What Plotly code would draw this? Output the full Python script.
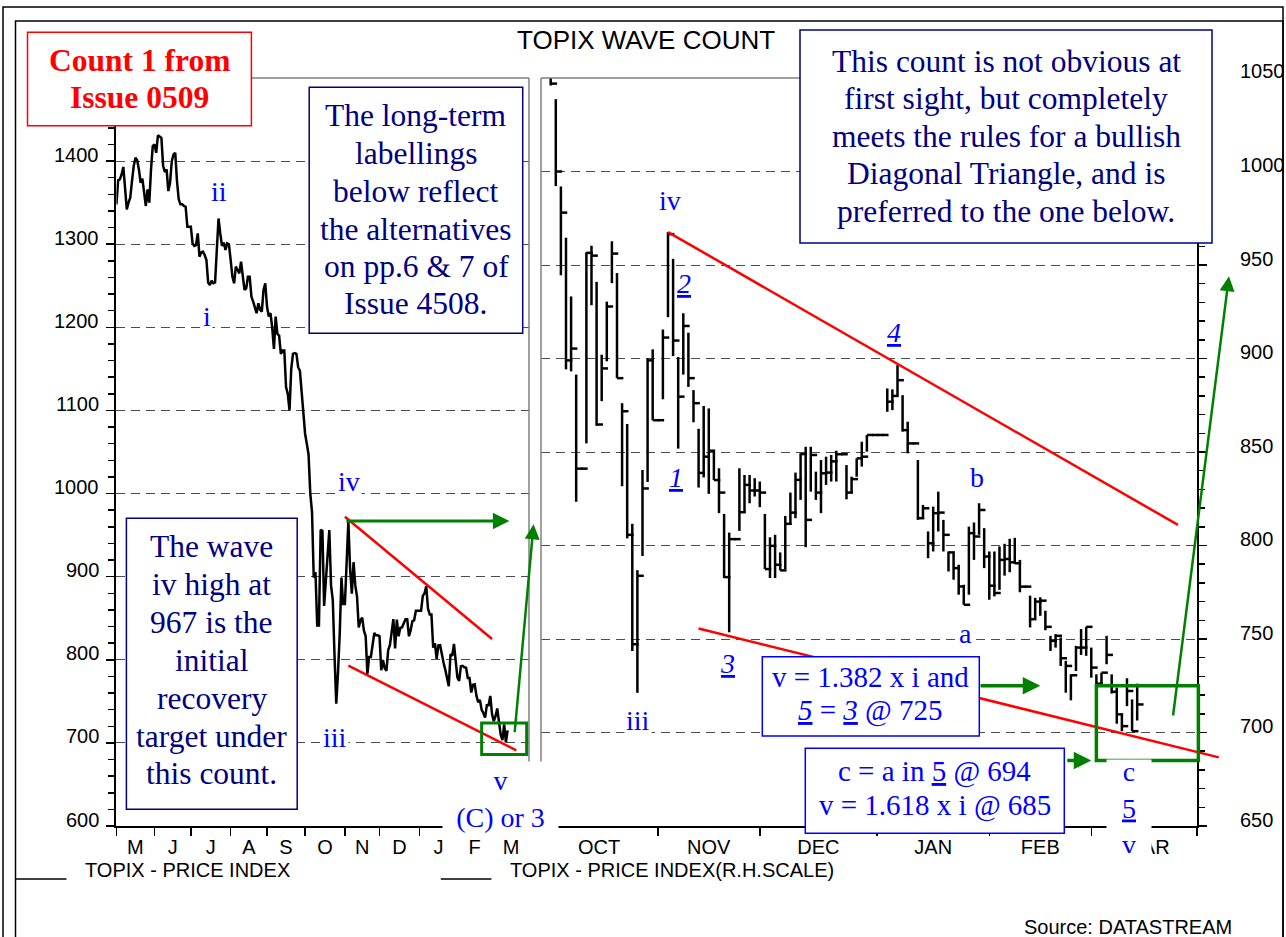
import numpy as np
import pandas as pd
import plotly.graph_objects as go

W, H = 1286, 937

# ---------------- data ----------------
LEFT_START = "2008-05-01"
RIGHT_START = "2008-10-01"
LAST_DAY = "2009-03-13"

# TOPIX close, weekdays 1 May 2008 - 30 Sep 2008 (left panel)
may_sep_close = [
    1348, 1377, 1378, 1384, 1393, 1366, 1342, 1350, 1356, 1376,
    1394, 1404, 1401, 1390, 1374, 1379, 1358, 1346, 1366, 1350,
    1390, 1418, 1420, 1410, 1431, 1429, 1428, 1394, 1387, 1390,
    1364, 1374, 1400, 1408, 1410, 1376, 1354, 1348, 1348, 1346,
    1345, 1321, 1321, 1321, 1301, 1298, 1299, 1313, 1285, 1290,
    1291, 1287, 1281, 1254, 1251, 1256, 1253, 1254, 1293, 1331,
    1313, 1298, 1302, 1293, 1301, 1300, 1281, 1261, 1253, 1273,
    1269, 1265, 1279, 1263, 1245, 1247, 1261, 1261, 1237, 1231,
    1225, 1217, 1229, 1221, 1219, 1245, 1253, 1225, 1213, 1217,
    1200, 1174, 1213, 1192, 1190, 1168, 1172, 1172, 1128, 1120,
    1100, 1150, 1168, 1169, 1168, 1152, 1148, 1120, 1090,
]

# TOPIX daily high / low / close, weekdays 1 Oct 2008 - 13 Mar 2009 (right panel)
bar_high = [
    1085, 1075, 1065, 1038.7, 992, 964.6, 933.2, 891.4, 841.1, 956.8,
    960.3, 941, 902, 930.4, 962.7, 945.7, 876.1, 865, 811.6, 786.8,
    840.4, 900.1, 904.9, 867, 915.5, 967.6, 953.3, 900.8, 924.2, 913.8,
    883.1, 862.4, 874.6, 873.3, 850.2, 841.3, 816.9, 806.9, 803.4, 841.3,
    837.7, 837.7, 836, 834.2, 816.9, 804.4, 805.7, 796.3, 815.8, 828.3,
    839, 849.3, 852.8, 852.8, 839.5, 845.7, 847.5, 848.4, 850.7, 848.8,
    843, 836.8, 846.6, 855.5, 859.1, 859.1, 859.1, 859.1, 884, 883.5,
    896.4, 880.4, 866.2, 854.6, 845.7, 821.7, 807.5, 820.8, 828.8, 813.7,
    796.8, 795.9, 789.7, 779, 810.1, 812.3, 822.6, 809.3, 796.8, 796.8,
    799.5, 800.9, 803.6, 804.1, 792.3, 778, 773.2, 772, 772.3, 765.1,
    751.7, 752.6, 750.8, 738.3, 731.1, 746.3, 755.3, 756.5, 745.4, 731.1,
    732, 751.7, 731.1, 724, 709.7, 729, 717.7, 726.1,
]
bar_low = [
    1060, 1052, 1046, 992.2, 944.5, 894.2, 893.1, 823.4, 841.1, 854.6,
    928.5, 864, 877.2, 898.5, 940.3, 889.5, 831.7, 803.8, 743.6, 721.2,
    794.4, 834, 867, 867, 878.2, 922.1, 901.3, 851.8, 891.4, 884.8,
    865.9, 831, 836.4, 827.6, 835, 817.3, 782.6, 753.6, 803.4, 807.8,
    817.8, 822.6, 826.2, 820.5, 787.4, 782.6, 782.6, 786.7, 787.4, 811,
    814.6, 824.4, 799.1, 828.8, 824.4, 817.3, 832.4, 834.2, 834.2, 848.8,
    824.7, 827.9, 836.8, 842.2, 850.2, 859.1, 859.1, 859.1, 871.5, 872.4,
    880.4, 860.9, 849.3, 854.6, 813.7, 814.6, 793.2, 796.8, 807.5, 796.8,
    786.1, 781.7, 773.7, 768.3, 773.7, 792.3, 805.7, 787.9, 771, 772.8,
    776.3, 783.9, 785.7, 790.2, 775, 778, 756.2, 761, 762.4, 754.7,
    743.6, 745.4, 735.6, 721.3, 717.2, 732.9, 741.5, 741, 729.3, 714.7,
    724.9, 736.5, 720.8, 704.7, 700.7, 714.1, 700.7, 706.4,
]
bar_close = [
    1072, 1060, 1047, 1000, 978, 899, 905.3, 841.1, 841.1, 956.5,
    955, 864.7, 894.7, 927.8, 956.1, 889.5, 871.8, 805.7, 747.2, 783.8,
    830.5, 899, 867, 867, 911.2, 966.5, 909.6, 879.6, 917.4, 889.5,
    876.1, 838.8, 847.5, 850.7, 835, 828.3, 783.1, 803.4, 803.4, 817.8,
    832.4, 829.4, 829.4, 828.3, 787.4, 799.8, 789.7, 786.7, 811.6, 817.6,
    835.1, 848.9, 813.7, 848.4, 828.3, 838.6, 839, 845, 848.8, 848.8,
    828.3, 835.5, 846.6, 847.5, 859.1, 859.1, 859.1, 859.1, 876.9, 880,
    888.4, 861.7, 854.6, 854.6, 814.6, 819.9, 801.2, 817.3, 817.6, 805.7,
    796.3, 787.9, 778.1, 768.3, 806.6, 804.8, 819, 794.1, 778.5, 774.6,
    792.3, 792.8, 791, 790.5, 778, 778, 760.6, 770, 770.5, 756.5,
    749, 751.7, 739.7, 735.6, 730.6, 745.4, 745.4, 756.5, 734.7, 726.1,
    732, 741.5, 721.8, 709.7, 703.4, 722.2, 700.7, 715,
]

left_month_labels = ["M", "J", "J", "A", "S", "O", "N", "D", "J", "F", "M"]
right_month_labels = ["OCT", "NOV", "DEC", "JAN", "FEB", "MAR"]
left_y_ticks = [600, 700, 800, 900, 1000, 1100, 1200, 1300, 1400]
right_y_ticks = [650, 700, 750, 800, 850, 900, 950, 1000, 1050]

# ---------------- geometry / style ----------------
SERIF = "Liberation Serif, Times New Roman, serif"
SANS = "Liberation Sans, Arial, sans-serif"
NAVY = "#000080"
BLUE = "#0000FF"
GREEN = "#008000"
RED = "#FF0000"
GREY = "#808080"

LX0, LX1 = 116.4, 529.0
RX0, RX1 = 541.0, 1197.0
PY0, PY1 = 78.0, 826.0
LXR = [0.0, 238.35]
RXR = [0.1, 128.73]
LYR = [600, 1500]
RYR = [650, 1050]
TICK = 1.25


def bidx(start, dates):
    d = pd.DatetimeIndex(pd.to_datetime(dates)).values.astype("datetime64[D]")
    return np.busday_count(np.datetime64(start, "D"), d)


def P(px, py):
    return px / W, 1 - py / H


def Lxy(date, v):
    k = float(bidx(LEFT_START, [date])[0])
    px = LX0 + (k - LXR[0]) / (LXR[1] - LXR[0]) * (LX1 - LX0)
    py = PY1 - (v - LYR[0]) / (LYR[1] - LYR[0]) * (PY1 - PY0)
    return P(px, py)


def Rxy(date, v):
    k = float(bidx(RIGHT_START, [date])[0])
    px = RX0 + (k - RXR[0]) / (RXR[1] - RXR[0]) * (RX1 - RX0)
    py = PY1 - (v - RYR[0]) / (RYR[1] - RYR[0]) * (PY1 - PY0)
    return P(px, py)


left_dates = pd.bdate_range(LEFT_START, LAST_DAY)
right_dates = pd.bdate_range(RIGHT_START, LAST_DAY)
left_close = may_sep_close + bar_close
assert len(left_close) == len(left_dates)
assert len(bar_close) == len(right_dates) == len(bar_high) == len(bar_low)
lx = bidx(LEFT_START, left_dates)
rx = bidx(RIGHT_START, right_dates)

fig = go.Figure()
fig.add_trace(go.Scatter(x=lx, y=left_close, mode="lines",
                         line=dict(color="black", width=2.5),
                         xaxis="x", yaxis="y", hoverinfo="skip"))
bx, by = [], []
for k, h, l, c in zip(rx, bar_high, bar_low, bar_close):
    bx += [k, k, None, k, k + TICK, None]
    by += [l, h, None, c, c, None]
fig.add_trace(go.Scatter(x=bx, y=by, mode="lines", connectgaps=False,
                         line=dict(color="black", width=2.5),
                         xaxis="x2", yaxis="y2", hoverinfo="skip"))

# month boundaries (ticks) and month centres (labels)
lm = bidx(LEFT_START, pd.date_range("2008-05-01", "2009-04-01", freq="MS")).astype(float)
rm = bidx(RIGHT_START, pd.date_range("2008-10-01", "2009-04-01", freq="MS")).astype(float)
l_ticks = np.clip(lm, LXR[0], LXR[1])
r_ticks = np.clip(rm, RXR[0], RXR[1])
l_cent = (lm[:-1] + lm[1:]) / 2
r_cent = (rm[:-1] + rm[1:]) / 2

ydom = [1 - PY1 / H, 1 - PY0 / H]
tickfont = dict(family=SANS, size=20, color="black")
axline = dict(showline=True, linecolor="black", linewidth=2, zeroline=False,
              fixedrange=True, automargin=False)


def xaxis_def(domain, rng, anchor, ticks_at, cent, labels):
    return dict(domain=domain, range=rng, anchor=anchor,
                tickmode="array", tickvals=cent, ticktext=labels, ticks="",
                tickfont=tickfont, ticklabelstandoff=2, showgrid=False,
                minor=dict(tickmode="array", tickvals=ticks_at, ticks="outside",
                           ticklen=8, tickwidth=1.5, tickcolor="black", showgrid=False),
                **axline)


def yaxis_def(domain, rng, anchor, side, vals, minor_d):
    return dict(domain=domain, range=rng, anchor=anchor, side=side,
                tickmode="array", tickvals=vals, showticklabels=False,
                ticks="outside", ticklen=8, tickwidth=1.5, tickcolor="black",
                showgrid=True, gridcolor="#4d4d4d", gridwidth=1, griddash="9px,6px",
                minor=dict(tickmode="linear", tick0=vals[0], dtick=minor_d,
                           ticks="outside", ticklen=6, tickwidth=1.5,
                           tickcolor="black", showgrid=False),
                **axline)


fig.update_layout(
    width=W, height=H, autosize=False, showlegend=False,
    margin=dict(l=0, r=0, t=0, b=0, pad=0, autoexpand=False),
    paper_bgcolor="white", plot_bgcolor="rgba(0,0,0,0)",
    xaxis=xaxis_def([LX0 / W, LX1 / W], LXR, "y", l_ticks, l_cent, left_month_labels),
    yaxis=yaxis_def(ydom, LYR, "x", "left", left_y_ticks, 20),
    xaxis2=xaxis_def([RX0 / W, RX1 / W], RXR, "y2", r_ticks, r_cent, right_month_labels),
    yaxis2=yaxis_def(ydom, RYR, "x2", "right", right_y_ticks, 10),
)

shapes = []


def pline(p0, p1, color, width):
    return dict(type="line", xref="paper", yref="paper", x0=p0[0], y0=p0[1],
                x1=p1[0], y1=p1[1], line=dict(color=color, width=width), layer="above")


def prect(p0, p1, color, width, fill=None):
    return dict(type="rect", xref="paper", yref="paper", x0=p0[0], y0=p0[1],
                x1=p1[0], y1=p1[1], line=dict(color=color, width=width),
                fillcolor=fill if fill else "rgba(0,0,0,0)", layer="above")


# outer frames
shapes.append(prect(P(3, 7), P(1283, 945), "black", 1.5))
shapes.append(prect(P(15.5, 21), P(1283, 945), "black", 1.5))
# panel frames (grey)
shapes.append(pline(P(LX0, PY0), P(LX1, PY0), GREY, 1.5))
shapes.append(pline(P(LX1, PY0), P(LX1, PY1), GREY, 1.5))
shapes.append(pline(P(RX0, PY0), P(RX1, PY0), GREY, 1.5))
shapes.append(pline(P(RX0, PY0), P(RX0, PY1), GREY, 1.5))

# red trend lines
shapes.append(pline(Lxy("2008-11-03", 972), Lxy("2009-03-02", 825), RED, 2.5))
shapes.append(pline(Lxy("2008-11-05", 793), Lxy("2009-03-20", 691), RED, 2.5))
shapes.append(pline(Rxy("2008-11-05", 967.6), Rxy("2009-03-25", 811), RED, 2.5))
shapes.append(pline(Rxy("2008-11-13", 755.6), Rxy("2009-04-06", 686.7), RED, 2.5))
# green target boxes
shapes.append(prect(Lxy("2009-02-20", 724), Lxy("2009-03-30", 686), GREEN, 3))
shapes.append(prect(Rxy("2009-03-03", 725), Rxy("2009-03-31", 685), GREEN, 3.5))

# text boxes
shapes.append(prect(P(27.5, 32.3), P(251.4, 125.7), RED, 1.5, "white"))
shapes.append(prect(P(309.2, 87.3), P(522.7, 333.3), NAVY, 1.5, "white"))
shapes.append(prect(P(126.4, 518.3), P(297.2, 809.3), NAVY, 1.5, "white"))
shapes.append(prect(P(800, 30), P(1212, 243), NAVY, 1.5, "white"))
shapes.append(prect(P(762.3, 656.7), P(979.3, 736), BLUE, 1.5, "white"))
shapes.append(prect(P(805.3, 748.3), P(1064.3, 833.3), BLUE, 1.5, "white"))

# legend lines
shapes.append(pline(P(15.5, 879), P(66.5, 879), "black", 1.5))
shapes.append(pline(P(440.8, 879), P(491.4, 879), "black", 1.5))

annotations = []

# y tick labels, placed through the axes' own value scales (label sits just above its tick)
for v in left_y_ticks:
    annotations.append(dict(text=str(v), xref="paper", x=100 / W, xanchor="right",
                            yref="y", y=v, yanchor="middle", yshift=6.5,
                            showarrow=False, font=tickfont, borderpad=0))
for v in right_y_ticks:
    annotations.append(dict(text=str(v), xref="paper", x=1239 / W, xanchor="left",
                            yref="y2", y=v, yanchor="middle", yshift=6.5,
                            showarrow=False, font=tickfont, borderpad=0))


def label(text, px, py, size=28, color=BLUE, family=SERIF, xanchor="center",
          bg=None, width=None, height=None, pad=1):
    x, y = P(px, py)
    d = dict(text=text, x=x, y=y, xref="paper", yref="paper", showarrow=False,
             xanchor=xanchor, yanchor="middle", align="center",
             font=dict(family=family, size=size, color=color), borderpad=pad)
    if bg:
        d["bgcolor"] = bg
    if width:
        d["width"] = width
    if height:
        d["height"] = height
    return d


def arrow(tail, tip, width, size):
    return dict(x=tip[0], y=tip[1], xref="paper", yref="paper",
                ax=(tail[0] - tip[0]) * W, ay=-(tail[1] - tip[1]) * H,
                axref="pixel", ayref="pixel", text="", showarrow=True,
                arrowhead=2, arrowsize=size, arrowwidth=width,
                arrowcolor=GREEN, standoff=0, startstandoff=0)


# title, legend, source
annotations.append(label("TOPIX WAVE COUNT", 646, 40, size=26, color="black", family=SANS))
annotations.append(label("TOPIX - PRICE INDEX", 83.3, 870, size=20, color="black",
                         family=SANS, xanchor="left"))
annotations.append(label("TOPIX - PRICE INDEX(R.H.SCALE)", 508, 870, size=20,
                         color="black", family=SANS, xanchor="left"))
annotations.append(label("Source: DATASTREAM", 1234, 927, size=20, color="black",
                         family=SANS, xanchor="right"))

# boxed texts
for t, y in zip(["<b>Count 1 from</b>", "<b>Issue 0509</b>"], [60, 97]):
    annotations.append(label(t, 139.5, y, size=31.5, color=RED))
for t, y in zip(["The long-term", "labellings", "below reflect", "the alternatives",
                 "on pp.6 &amp; 7 of", "Issue 4508."],
                [115, 153.3, 191.7, 229.3, 266.7, 303.3]):
    annotations.append(label(t, 416, y, size=31.5, color=NAVY))
for t, y in zip(["The wave", "iv high at", "967 is the", "initial", "recovery",
                 "target under", "this count."],
                [546, 584, 622.7, 660, 698, 736, 773]):
    annotations.append(label(t, 211.8, y, size=31.5, color=NAVY))
for t, y in zip(["This count is not obvious at", "first sight, but completely",
                 "meets the rules for a bullish", "Diagonal Triangle, and is",
                 "preferred to the one below."],
                [61, 98.3, 136, 173.3, 211.7]):
    annotations.append(label(t, 1006, y, size=31.5, color=NAVY))
annotations.append(label("v = 1.382 x i and", 870.8, 676.7, size=29))
annotations.append(label("<i><u>5</u></i> = <i><u>3</u></i> @ 725", 870.8, 710, size=29))
annotations.append(label("c = a in <u>5</u> @ 694", 934.8, 771.7, size=29))
annotations.append(label("v = 1.618 x i @ 685", 934.8, 805, size=29))

# wave labels - left panel
annotations.append(label("ii", 219.4, 191.7))
annotations.append(label("i", 207.3, 316.7, bg="white"))
annotations.append(label("iv", 349.5, 481.7, bg="white"))
annotations.append(label("iii", 334.5, 737.5, bg="white"))
annotations.append(label("v<br>(C) or 3", 500.5, 799, bg="white", width=111, height=70, pad=2))
# wave labels - right panel
annotations.append(label("iv", 670, 201))
annotations.append(label("<i><u>2</u></i>", 684, 284))
annotations.append(label("<i><u>1</u></i>", 676, 477))
annotations.append(label("iii", 637.7, 720, bg="white"))
annotations.append(label("<i><u>3</u></i>", 727.3, 663))
annotations.append(label("<i><u>4</u></i>", 894.3, 332))
annotations.append(label("b", 976.7, 478))
annotations.append(label("a", 965, 633, bg="white"))
annotations.append(label("c<br><u>5</u><br>v", 1129, 808, bg="white", width=38, height=90, pad=3))

# green arrows
annotations.append(arrow(Lxy("2008-11-03", 967), Lxy("2009-03-16", 967), 3, 1.1))
annotations.append(arrow(Lxy("2009-03-19", 711), Lxy("2009-04-03", 963), 2.5, 1.2))
annotations.append(arrow(Rxy("2009-01-29", 725), Rxy("2009-02-16", 725), 3.5, 1.0))
annotations.append(arrow(Rxy("2009-02-23", 685), Rxy("2009-03-02", 685), 3.5, 1.0))
annotations.append(arrow(Rxy("2009-03-24", 708.3), Rxy("2009-04-08", 944), 2.5, 1.2))

fig.update_layout(shapes=shapes, annotations=annotations)

fig.write_html("out.html", include_plotlyjs=True, full_html=True,
               config={"displayModeBar": False, "staticPlot": True},
               post_script="document.body.style.margin='0';document.body.style.overflow='hidden';")
